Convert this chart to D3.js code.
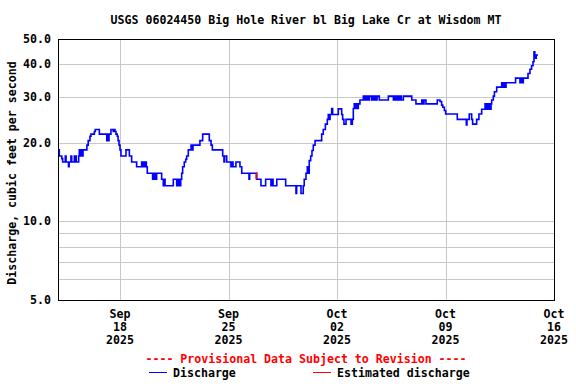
<!DOCTYPE html>
<html>
<head>
<meta charset="utf-8">
<script src="https://cdn.jsdelivr.net/npm/d3@7"></script>
<style>
  html, body { margin: 0; padding: 0; background: #fff; }
  svg text { font-family: "DejaVu Sans Mono", "Liberation Mono", monospace; font-weight: bold; font-size: 11.6px; }
</style>
</head>
<body>
<svg id="chart" width="576" height="384"></svg>
<script>
const title = "USGS 06024450 Big Hole River bl Big Lake Cr at Wisdom MT";
const yTitle = "Discharge, cubic feet per second";
const provisional = "---- Provisional Data Subject to Revision ----";
const legendLabels = ["Discharge", "Estimated discharge"];
const year = "2025";
const xDomain = ["09-14 00:00", "10-16 00:00"];
const yDomain = [5, 50];
const xTicks = ["09-18 00:00", "09-25 00:00", "10-02 00:00", "10-09 00:00", "10-16 00:00"];
const yTickValues = [5, 10, 20, 30, 40, 50];
const yGridValues = [6, 7, 8, 9, 10, 20, 30, 40];

// Discharge (15-min provisional data, read as step changes)
const dischargeTimes = [
"09-14 00:00","09-14 02:00","09-14 05:45","09-14 07:15","09-14 11:15","09-14 12:30","09-14 16:15","09-14 17:15","09-14 20:00","09-14 21:15",
"09-15 01:15","09-15 02:15","09-15 03:30","09-15 04:15","09-15 08:00","09-15 09:00","09-15 10:00","09-15 11:30","09-15 13:15","09-15 14:45",
"09-15 20:45","09-15 22:45","09-16 01:30","09-16 03:00","09-16 08:15","09-16 09:45","09-16 16:00","09-17 03:30","09-17 05:00","09-17 06:00",
"09-17 07:00","09-17 10:00","09-17 13:30","09-17 14:45","09-17 16:15","09-17 17:45","09-17 19:45","09-17 21:00","09-17 22:30","09-18 00:00",
"09-18 01:30","09-18 09:15","09-18 14:30","09-18 18:00","09-19 01:45","09-19 09:30","09-19 11:15","09-19 12:45","09-19 14:45","09-19 15:45",
"09-19 16:45","09-19 18:15","09-20 02:30","09-20 03:30","09-20 04:45","09-20 06:15","09-20 07:45","09-20 08:45","09-20 16:30","09-20 19:00",
"09-20 20:00","09-20 21:45","09-21 10:30","09-21 15:45","09-21 16:45","09-21 18:15","09-21 19:15","09-21 21:00","09-21 22:00","09-21 23:30",
"09-22 01:00","09-22 03:30","09-22 05:45","09-22 07:15","09-22 09:45","09-22 14:00","09-22 15:30","09-22 17:00","09-23 03:45","09-23 08:00",
"09-23 18:15","09-23 21:00","09-23 23:00","09-24 15:00","09-24 17:00","09-24 18:00","09-24 21:15","09-25 03:45","09-25 05:30","09-25 07:00",
"09-25 11:30","09-25 17:45","09-25 20:30","09-26 07:45","09-26 08:45","09-26 19:45","09-27 02:15","09-27 09:30","09-27 17:45","09-27 19:15",
"09-27 21:00","09-28 02:45","09-28 16:30","09-29 08:30","09-29 09:30","09-29 16:15","09-29 19:45","09-29 21:15","09-30 00:00","09-30 02:00",
"09-30 03:30","09-30 05:00","09-30 07:15","09-30 09:15","09-30 11:15","09-30 14:00","10-01 00:15","10-01 02:45","10-01 06:00","10-01 09:00",
"10-01 10:30","10-01 11:30","10-01 13:15","10-01 15:45","10-01 17:15","10-02 02:00","10-02 07:15","10-02 08:45","10-02 10:45","10-02 14:00",
"10-02 21:45","10-02 23:45","10-03 01:15","10-03 02:45","10-03 04:15","10-03 06:00","10-03 07:30","10-03 09:00","10-03 11:30","10-03 16:45",
"10-03 18:30","10-03 20:00","10-03 21:45","10-03 23:15","10-04 00:45","10-04 02:15","10-04 05:45","10-04 07:15","10-04 09:15","10-04 10:45",
"10-04 12:30","10-04 14:00","10-04 17:30","10-05 07:30","10-05 15:15","10-05 16:45","10-05 18:15","10-05 19:45","10-05 21:30","10-05 23:00",
"10-06 00:30","10-06 02:00","10-06 03:30","10-06 06:45","10-06 19:45","10-07 02:15","10-07 11:15","10-07 13:15","10-07 14:45","10-07 17:45",
"10-08 11:15","10-08 15:30","10-08 18:00","10-08 19:45","10-08 22:15","10-09 00:15","10-09 18:15","10-10 08:15","10-10 09:15","10-10 12:45",
"10-10 16:30","10-10 18:00","10-11 00:15","10-11 03:45","10-11 08:00","10-11 13:15","10-11 14:45","10-11 16:15","10-11 17:45","10-11 19:15",
"10-11 21:00","10-11 22:30","10-11 23:30","10-12 02:00","10-12 03:45","10-12 07:15","10-12 15:00","10-12 16:30","10-12 18:00","10-12 19:45",
"10-12 21:45","10-13 12:30","10-13 19:15","10-13 21:00","10-13 22:30","10-14 00:30","10-14 07:45","10-14 10:45","10-14 13:15","10-14 15:30",
"10-14 17:00","10-14 18:15","10-14 19:00","10-14 19:45","10-14 20:30","10-14 23:15"
];
const dischargeValues = [
18.8,17.8,17.4,16.9,17.8,16.9,16.2,16.9,17.8,16.9,
17.8,16.9,17.8,16.9,17.8,18.8,17.8,18.8,17.8,18.8,
19.6,20.4,21.2,21.6,22.1,22.5,21.6,20.4,21.6,20.4,
21.6,22.5,22.1,22.5,22.1,21.6,21.2,20.4,19.6,18.8,
17.8,18.8,17.8,16.9,16.2,16.9,16.2,16.9,16.2,16.9,
16.2,15.3,14.5,15.3,14.5,15.3,14.5,15.3,14.5,13.7,
14.5,13.7,14.5,13.7,14.5,13.7,14.5,13.7,14.5,15.3,
16.2,16.9,17.3,17.8,18.8,19.6,18.8,19.6,20.4,21.6,
20.4,19.6,18.8,17.8,16.9,17.8,16.9,16.2,16.9,16.2,
16.9,16.2,15.3,14.5,15.3,14.5,13.7,14.5,13.7,14.5,
13.7,14.5,13.7,12.8,13.7,12.8,13.7,14.5,15.3,16.2,
15.3,17.1,17.8,18.7,19.6,20.4,21.6,22.5,23.6,24.6,
25.7,24.6,25.7,27.1,25.7,27.0,25.7,24.6,23.6,24.6,
23.6,24.6,27.1,28.2,27.1,28.2,27.1,28.2,29.2,30.2,
29.2,30.2,29.2,30.2,29.2,30.2,29.2,30.2,29.2,30.2,
29.2,30.2,29.2,30.2,29.2,30.2,29.2,30.2,29.2,30.2,
29.2,30.2,29.2,30.2,29.2,28.2,29.2,28.2,29.2,28.2,
29.2,28.8,27.9,27.4,26.6,25.8,24.6,23.4,24.6,25.8,
24.6,23.6,24.6,25.8,26.9,28.2,26.9,28.2,26.9,28.2,
26.9,28.2,29.2,30.2,31.4,32.7,34.0,32.7,34.0,32.7,
34.0,35.4,34.0,35.4,34.0,35.4,36.9,38.3,39.5,40.9,
44.7,42.2,43.4,42.2,43.4,43.4
];
// Estimated discharge (short red segment)
const estimatedTimes = ["09-26 18:45", "09-26 19:00"];
const estimatedValues = [15.3, 14.5];

const parse = d3.timeParse("%Y-%m-%d %H:%M");
const t = s => parse(year + "-" + s);

const svg = d3.select("#chart");
const m = { left: 58, right: 554, top: 39, bottom: 300 };

const x = d3.scaleTime().domain(xDomain.map(t)).range([m.left, m.right]);
const y = d3.scaleLog().domain(yDomain).range([m.bottom, m.top]);

// grid
svg.append("g").selectAll("line").data(yGridValues).join("line")
  .attr("x1", m.left).attr("x2", m.right)
  .attr("y1", d => Math.round(y(d)) + 0.5).attr("y2", d => Math.round(y(d)) + 0.5)
  .attr("stroke", "#c8c8c8").attr("stroke-width", 1);
svg.append("g").selectAll("line").data(xTicks.slice(0, -1)).join("line")
  .attr("x1", d => Math.round(x(t(d))) + 0.5).attr("x2", d => Math.round(x(t(d))) + 0.5)
  .attr("y1", m.top).attr("y2", m.bottom)
  .attr("stroke", "#c8c8c8").attr("stroke-width", 1);

// lines
const lineGen = d3.line().x(d => x(d[0])).y(d => y(d[1])).curve(d3.curveStepAfter);
const dData = dischargeTimes.map((s, i) => [t(s), dischargeValues[i]]);
const eData = estimatedTimes.map((s, i) => [t(s), estimatedValues[i]]);
svg.append("path").datum(dData).attr("d", lineGen)
  .attr("fill", "none").attr("stroke", "#0000ff").attr("stroke-width", 1.6);
svg.append("path").datum(eData).attr("d", lineGen)
  .attr("fill", "none").attr("stroke", "#ff0000").attr("stroke-width", 1.8);

// frame
svg.append("rect").attr("x", m.left + 0.5).attr("y", m.top + 0.5)
  .attr("width", m.right - m.left).attr("height", m.bottom - m.top)
  .attr("fill", "none").attr("stroke", "#000").attr("stroke-width", 1);

// y tick labels
svg.append("g").selectAll("text").data(yTickValues).join("text")
  .attr("x", 51).attr("y", d => y(d)).attr("dy", "0.35em")
  .attr("text-anchor", "end").text(d => d.toFixed(1));

// x tick labels
const fmts = [d3.timeFormat("%b"), d3.timeFormat("%d"), d3.timeFormat("%Y")];
const xl = svg.append("g").selectAll("g").data(xTicks).join("g");
fmts.forEach((f, i) => {
  xl.append("text").attr("x", d => x(t(d))).attr("y", 318 + i * 13)
    .attr("text-anchor", "middle").text(d => f(t(d)));
});

// titles
svg.append("text").attr("x", 306).attr("y", 24).attr("text-anchor", "middle").text(title);
svg.append("text").attr("transform", "translate(16,173) rotate(-90)")
  .attr("text-anchor", "middle").text(yTitle);
svg.append("text").attr("x", 306).attr("y", 363).attr("text-anchor", "middle")
  .attr("fill", "#ff0000").text(provisional);

// legend
const legend = [{ x1: 149, x2: 167, tx: 173, color: "#0000ff" }, { x1: 313, x2: 331, tx: 337, color: "#ff0000" }];
legend.forEach((l, i) => {
  svg.append("line").attr("x1", l.x1).attr("x2", l.x2).attr("y1", 372.5).attr("y2", 372.5)
    .attr("stroke", l.color).attr("stroke-width", 1);
  svg.append("text").attr("x", l.tx).attr("y", 377).text(legendLabels[i]);
});
</script>
</body>
</html>
